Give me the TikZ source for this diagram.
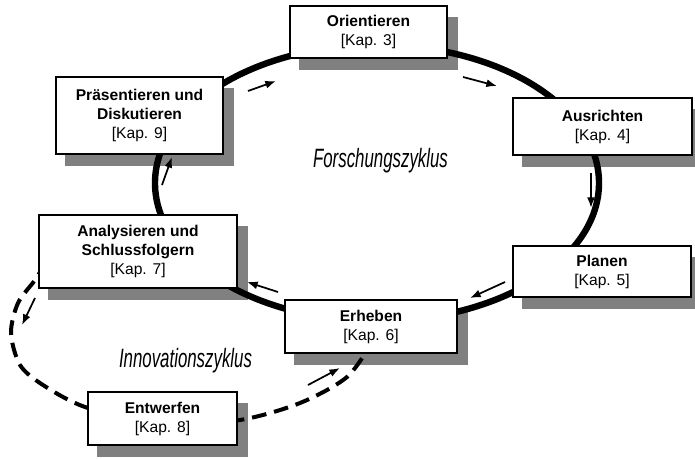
\documentclass[tikz,border=0pt]{standalone}
\usepackage{fontspec}
\setmainfont{Liberation Sans}
\newfontfamily\zyklusfont[FakeStretch=0.635]{Liberation Sans}
\usetikzlibrary{arrows.meta, calc}
\definecolor{shadeGrey}{HTML}{808080}
\pgfdeclarelayer{shade}
\pgfdeclarelayer{cycle}
\pgfsetlayers{shade,cycle,main}
\tikzset{
  kapbox/.style     = {draw, fill=white, line width=0.9pt, align=center, inner sep=0pt,
                       font=\fontsize{11.7}{14.2}\selectfont},
  cycleline/.style  = {line width=4.8pt},
  innoline/.style   = {line width=3pt, dash pattern=on 11pt off 6pt},
  cyclearrow/.style = {-{Latex[length=8pt, width=6pt]}, line width=1.3pt},
  zyklbl/.style     = {anchor=base, font=\zyklusfont\itshape\fontsize{19.9}{22}\selectfont},
}

\begin{document}
\begin{tikzpicture}[x=0.75pt, y=-0.75pt]
  \useasboundingbox (0,0) rectangle (695,458);
  \node[kapbox, minimum width=117.75pt, minimum height=39pt]    (orient) at (368.5,32)   {\textbf{Orientieren}\\{}[Kap. 3]};
  \node[kapbox, minimum width=134.25pt, minimum height=42.75pt] (ausr)   at (602.5,126.5) {\textbf{Ausrichten}\\{}[Kap. 4]};
  \node[kapbox, minimum width=133.5pt,  minimum height=38.25pt] (plan)   at (602,271.5)   {\textbf{Planen}\\{}[Kap. 5]};
  \node[kapbox, minimum width=129pt,    minimum height=39.75pt] (erheb)  at (371,326.5)   {\textbf{Erheben}\\{}[Kap. 6]};
  \node[kapbox, minimum width=148.5pt,  minimum height=54.75pt] (analys) at (138,251.5)   {\textbf{Analysieren und}\\\textbf{Schlussfolgern}\\{}[Kap. 7]};
  \node[kapbox, minimum width=111.75pt, minimum height=39.75pt] (entw)   at (162.5,418.5) {\textbf{Entwerfen}\\{}[Kap. 8]};
  \node[kapbox, minimum width=125.25pt, minimum height=57.75pt] (praes)  at (139.5,115.5) {\textbf{Präsentieren und}\\\textbf{Diskutieren}\\{}[Kap. 9]};
  \node[zyklbl] (forsch) at (380.5,167) {Forschungszyklus};
  \node[zyklbl] (innov)  at (185.5,367) {Innovationszyklus};

  \begin{pgfonlayer}{shade}
    \foreach \n in {orient, ausr, plan, erheb, analys, entw, praes}
      \fill[shadeGrey] ($(\n.north west)+(10,11.5)$) rectangle ($(\n.south east)+(10,11.5)$);
  \end{pgfonlayer}

  \begin{pgfonlayer}{cycle}
    \draw[cycleline] (377,183) ellipse [x radius=222, y radius=138];
    \draw[innoline] plot[smooth] coordinates {(46,262) (35,280) (18,303) (11,333) (20,365) (43,385)
      (85,407) (160,426) (240,420) (300,403) (347,377) (372,342)};
    \foreach \a/\b in {{248,91}/{276,81}, {463,77}/{497,86}, {591,173}/{591,208}, {505,282}/{470,298},
                       {278,292}/{247,282}, {162,185}/{172,157}, {35,298}/{22,325}, {308,385}/{340,368}}
      \draw[cyclearrow] (\a) -- (\b);
  \end{pgfonlayer}
\end{tikzpicture}
\end{document}
